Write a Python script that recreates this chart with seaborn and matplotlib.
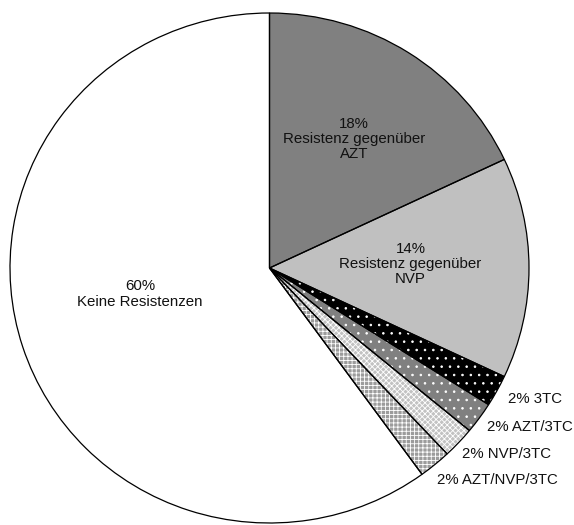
import matplotlib
matplotlib.use("Agg")
import matplotlib.pyplot as plt
import seaborn as sns

sns.set_theme(style="white")
plt.rcParams['font.family'] = ['Liberation Sans', 'DejaVu Sans']
plt.rcParams['hatch.linewidth'] = 0.6

# Resistance profile shares (percent), clockwise from 12 o'clock
categories = ["Resistenz gegenüber\nAZT", "Resistenz gegenüber\nNVP", "3TC",
              "AZT/3TC", "NVP/3TC", "AZT/NVP/3TC", "Keine Resistenzen"]
shares = [18, 14, 2, 2, 2, 2, 60]

# Fill styles per slice
face_colors = ["#808080", "#c0c0c0", "#000000", "#808080", "#c2c2c2", "#9c9c9c", "#ffffff"]
hatches = [None, None, "..", "..", "xxxxxx", "++++", None]
hatch_colors = ["none", "none", "white", "white", "white", "white", "none"]

# Label placement (data coords of unit pie) and style
inside = [True, True, False, False, False, False, True]
label_pos = [(0.326, 0.506), (0.543, 0.016), (0.918, -0.514), (0.837, -0.625),
             (0.742, -0.729), (0.644, -0.831), (-0.499, -0.102)]

fig = plt.figure(figsize=(5.74, 5.25), dpi=100)
ax = fig.add_axes([10 / 574, 2 / 525, 519 / 574, 510 / 525])

# Filled and hatched wedges
wedges, _ = ax.pie(shares, startangle=90, counterclock=False, radius=1,
                   colors=face_colors, hatch=[h or "" for h in hatches],
                   wedgeprops=dict(linewidth=0))
for w, hc in zip(wedges, hatch_colors):
    w.set_edgecolor(hc)
    w.set_linewidth(0)

# Outlines on top
ax.pie(shares, startangle=90, counterclock=False, radius=1,
       wedgeprops=dict(fill=False, edgecolor="black", linewidth=0.9))

for name, v, ins, (x, y) in zip(categories, shares, inside, label_pos):
    if ins:
        ax.text(x, y, f"{v}%\n{name}", ha="center", va="center",
                fontsize=10.8, color="#111111", linespacing=1.1, multialignment="center")
    else:
        ax.text(x, y, f"{v}% {name}", ha="left", va="center",
                fontsize=10.8, color="#111111")

ax.set_aspect("auto")
ax.set_xlim(-1, 1)
ax.set_ylim(-1, 1)
ax.axis("off")

fig.savefig("out.png", dpi=100)
